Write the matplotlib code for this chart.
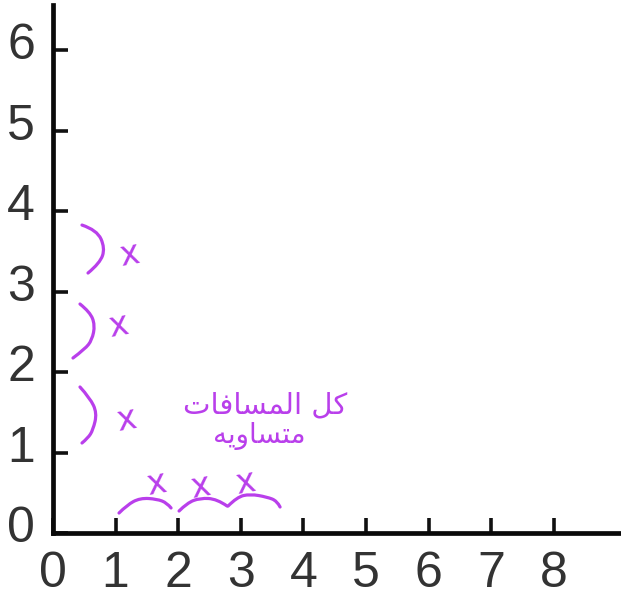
import matplotlib
matplotlib.use("Agg")
import matplotlib.pyplot as plt
from matplotlib.path import Path
from matplotlib.patches import PathPatch
from matplotlib.transforms import ScaledTranslation

plt.rcParams['font.family'] = ['Liberation Sans', 'DejaVu Sans']

x_ticks = [0, 1, 2, 3, 4, 5, 6, 7, 8]
y_ticks = [0, 1, 2, 3, 4, 5, 6]
x_max = 9.07
y_max = 6.56

# hand drawn brackets, in axis units
brace_y1_x = [.431, .591, .703, .639, .559, .463]
brace_y1_y = [1.814, 1.677, 1.491, 1.280, 1.180, 1.118]
brace_y2_x = [.431, .591, .671, .623, .511, .319]
brace_y2_y = [2.845, 2.745, 2.584, 2.398, 2.286, 2.174]
brace_y3_x = [.463, .703, .831, .751, .559]
brace_y3_y = [3.826, 3.764, 3.540, 3.354, 3.230]
brace_x1_x = [1.054, 1.182, 1.390, 1.661, 1.821, 1.885]
brace_x1_y = [.248, .348, .435, .422, .373, .311]
brace_x2_x = [2.013, 2.141, 2.348, 2.620, 2.780]
brace_x2_y = [.273, .373, .435, .422, .335]
brace_x3_x = [2.796, 2.939, 3.147, 3.419, 3.578, 3.626]
brace_x3_y = [.335, .447, .484, .447, .398, .323]

# the "x" letters next to the brackets
mark_x = [1.214, 1.038, 1.166, 1.645, 2.348, 3.067]
mark_y = [3.453, 2.571, 1.404, .609, .571, .621]

# arabic text, shaped by hand because matplotlib does not join the letters
note_line1 = "\uFEDB\uFEDE \uFE8D\uFEDF\uFEE4\uFEB4\uFE8E\uFED3\uFE8E\uFE95"
note_line2 = "\uFEE3\uFE98\uFEB4\uFE8E\uFEED\uFEF3\uFEEA"

purple = "#B93FEB"


def smooth_line(ax, xs, ys):
    # curve through the midpoints, so the stroke looks drawn by hand
    pts = list(zip(xs, ys))
    verts = [pts[0]]
    codes = [Path.MOVETO]
    for i in range(1, len(pts) - 1):
        end = pts[i + 1] if i == len(pts) - 2 else ((pts[i][0] + pts[i + 1][0]) / 2, (pts[i][1] + pts[i + 1][1]) / 2)
        verts += [pts[i], end]
        codes += [Path.CURVE3, Path.CURVE3]
    ax.add_patch(PathPatch(Path(verts, codes), fc="none", ec=purple, lw=2.3, capstyle="round", clip_on=False))


fig = plt.figure(figsize=(6.21, 6.02), dpi=100)
ax = fig.add_axes([53 / 621, 69 / 602, 568 / 621, 528 / 602])
ax.set_xlim(0, x_max)
ax.set_ylim(0, y_max)

for s in ["top", "right"]:
    ax.spines[s].set_visible(False)
for s in ["left", "bottom"]:
    ax.spines[s].set_linewidth(3.4)
    ax.spines[s].set_color("#0a0a0a")

ax.set_xticks(x_ticks)
ax.set_yticks(y_ticks)
ax.tick_params(axis="x", direction="in", length=11, width=2.6, color="#111111", labelsize=36, labelcolor="#333333", pad=13)
ax.tick_params(axis="y", direction="in", length=11, width=2.6, color="#111111", labelsize=36, labelcolor="#333333", pad=13)

# y labels sit a bit higher than their ticks
shift = ScaledTranslation(0, 9 / 100, fig.dpi_scale_trans)
for lab in ax.get_yticklabels():
    lab.set_transform(lab.get_transform() + shift)

for bx, by in [(brace_y1_x, brace_y1_y), (brace_y2_x, brace_y2_y), (brace_y3_x, brace_y3_y),
               (brace_x1_x, brace_x1_y), (brace_x2_x, brace_x2_y), (brace_x3_x, brace_x3_y)]:
    smooth_line(ax, bx, by)

for mx, my in zip(mark_x, mark_y):
    ax.text(mx, my, "x", color=purple, fontsize=24, ha="center", va="center", family="DejaVu Sans", rotation=10)

ax.text(3.387, 1.58, note_line1[::-1], color=purple, fontsize=21, ha="center", va="center", family="DejaVu Sans")
ax.text(3.29, 1.21, note_line2[::-1], color=purple, fontsize=20, ha="center", va="center", family="DejaVu Sans")

fig.savefig("out.png", dpi=100)
